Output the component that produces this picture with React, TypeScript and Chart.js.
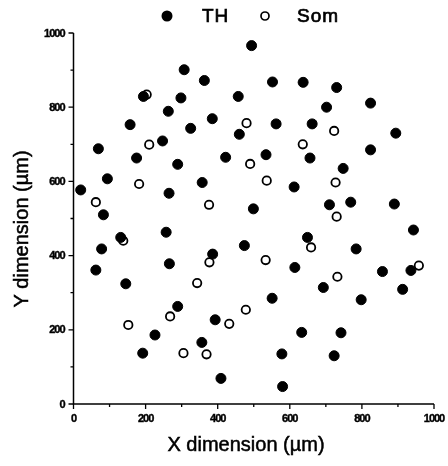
import React, { useEffect, useRef } from "react";
import { Chart, registerables } from "chart.js";

Chart.register(...registerables);

// Cell positions in micrometres
const thX = [494, 307, 363, 552, 637, 730, 194, 298, 457, 824, 702, 263, 385, 157, 562, 662, 325, 460, 894, 69, 247, 824, 175, 289, 422, 534, 656, 748, 94, 20, 357, 265, 612, 499, 710, 769, 890, 83, 943, 257, 131, 649, 474, 78, 784, 386, 266, 614, 62, 857, 936, 145, 693, 913, 551, 798, 289, 226, 192, 393, 356, 409, 633, 742, 578, 723, 580];
const thY = [966, 901, 872, 868, 867, 853, 829, 825, 829, 811, 800, 789, 769, 753, 755, 755, 743, 727, 730, 688, 709, 685, 663, 646, 665, 672, 663, 635, 607, 577, 597, 568, 585, 526, 537, 544, 539, 510, 469, 463, 449, 449, 427, 418, 418, 404, 378, 368, 361, 357, 360, 324, 314, 309, 285, 281, 263, 186, 137, 227, 166, 69, 193, 192, 135, 130, 47];

const somX = [203, 480, 723, 210, 636, 490, 182, 536, 727, 62, 376, 730, 138, 659, 377, 533, 958, 732, 343, 478, 152, 268, 432, 305, 369];
const somY = [834, 757, 736, 699, 700, 647, 593, 602, 597, 544, 537, 505, 440, 422, 382, 388, 373, 343, 326, 254, 213, 236, 216, 137, 134];

const seriesNames = ["TH", "Som"];
const axisMax = 1000;
const majorStep = 200;
const minorStep = 100;
const xTitle = "X dimension (\u00b5m)";
const yTitle = "Y dimension (\u00b5m)";

const FONT = "'Liberation Sans', Arial, sans-serif";

// draws text with a thin outline so the strokes read a little heavier
function heavyText(ctx: CanvasRenderingContext2D, text: string, x: number, y: number, w: number) {
  ctx.lineWidth = w;
  ctx.strokeText(text, x, y);
  ctx.fillText(text, x, y);
}

const axesPlugin = {
  id: "paperAxes",
  afterDraw(chart: any) {
    const { ctx, chartArea, scales } = chart;
    const xs = scales.x;
    const ys = scales.y;
    const left = chartArea.left;
    const bottom = chartArea.bottom;
    ctx.save();
    ctx.strokeStyle = "#000";
    ctx.fillStyle = "#000";
    ctx.lineWidth = 1.5;

    // axis lines
    ctx.beginPath();
    ctx.moveTo(left, ys.getPixelForValue(axisMax));
    ctx.lineTo(left, bottom);
    ctx.lineTo(xs.getPixelForValue(axisMax), bottom);
    ctx.stroke();

    // ticks
    ctx.lineWidth = 1.3;
    for (let v = 0; v <= axisMax; v += minorStep) {
      const major = v % majorStep === 0;
      const len = major ? 5 : 3;
      const px = xs.getPixelForValue(v);
      const py = ys.getPixelForValue(v);
      ctx.beginPath();
      ctx.moveTo(px, bottom);
      ctx.lineTo(px, bottom + len);
      ctx.moveTo(left, py);
      ctx.lineTo(left - len, py);
      ctx.stroke();
    }

    // tick labels
    ctx.font = `bold 11px ${FONT}`;
    (ctx as any).letterSpacing = "-1px";
    for (let v = 0; v <= axisMax; v += majorStep) {
      const label = String(v);
      ctx.textAlign = "right";
      ctx.textBaseline = "middle";
      heavyText(ctx, label, left - 9, ys.getPixelForValue(v) + 0.5, 0.4);
      ctx.textAlign = "center";
      ctx.textBaseline = "top";
      heavyText(ctx, label, xs.getPixelForValue(v), bottom + 9, 0.4);
    }
    (ctx as any).letterSpacing = "0px";

    // axis titles
    ctx.font = `20px ${FONT}`;
    ctx.textAlign = "center";
    ctx.textBaseline = "middle";
    heavyText(ctx, xTitle, 246, 445, 0.5);
    ctx.save();
    ctx.translate(22, 229);
    ctx.rotate(-Math.PI / 2);
    heavyText(ctx, yTitle, 0, 0, 0.5);
    ctx.restore();

    // legend
    ctx.beginPath();
    ctx.arc(167, 16, 5.5, 0, Math.PI * 2);
    ctx.fill();
    ctx.beginPath();
    ctx.lineWidth = 1.7;
    ctx.arc(265, 16, 4, 0, Math.PI * 2);
    ctx.stroke();
    ctx.font = `19px ${FONT}`;
    (ctx as any).letterSpacing = "1px";
    ctx.textAlign = "left";
    ctx.textBaseline = "middle";
    heavyText(ctx, seriesNames[0], 202, 17, 0.7);
    heavyText(ctx, seriesNames[1], 297, 17, 0.7);
    (ctx as any).letterSpacing = "0px";

    ctx.restore();
  },
};

export default function App() {
  const ref = useRef<HTMLCanvasElement>(null);

  useEffect(() => {
    if (!ref.current) return;
    const chart = new Chart(ref.current, {
      type: "scatter",
      data: {
        datasets: [
          {
            label: seriesNames[0],
            data: thX.map((x, i) => ({ x, y: thY[i] })),
            pointRadius: 5,
            pointBackgroundColor: "#000",
            pointBorderColor: "#000",
            pointBorderWidth: 1,
          },
          {
            label: seriesNames[1],
            data: somX.map((x, i) => ({ x, y: somY[i] })),
            pointRadius: 4.2,
            pointBackgroundColor: "#fff",
            pointBorderColor: "#000",
            pointBorderWidth: 1.8,
          },
        ],
      },
      options: {
        responsive: false,
        animation: false,
        clip: false as any,
        layout: { padding: { top: 33, right: 14, left: 0, bottom: 0 } },
        plugins: { legend: { display: false }, tooltip: { enabled: false } },
        scales: {
          x: {
            type: "linear",
            min: 0,
            max: axisMax,
            grid: { display: false },
            border: { display: false },
            ticks: { display: false },
            afterFit: (s: any) => {
              s.height = 62;
            },
          },
          y: {
            type: "linear",
            min: 0,
            max: axisMax,
            grid: { display: false },
            border: { display: false },
            ticks: { display: false },
            afterFit: (s: any) => {
              s.width = 73.5;
            },
          },
        },
      },
      plugins: [axesPlugin],
    });
    return () => chart.destroy();
  }, []);

  return (
    <div style={{ position: "absolute", left: 0, top: 0, width: 448, height: 466, background: "#fff" }}>
      <canvas ref={ref} width={448} height={466} style={{ display: "block" }} />
    </div>
  );
}
